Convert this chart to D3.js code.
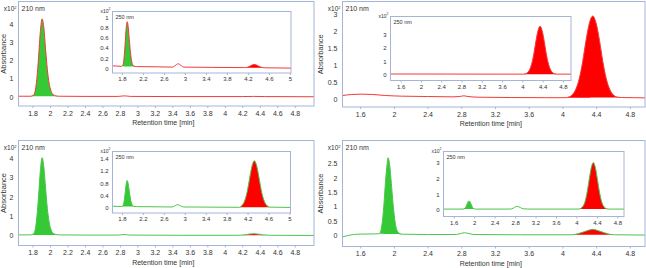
<!DOCTYPE html>
<meta charset="utf-8">
<style>
  body { margin: 0; background: #fff; }
  text { font-family: "Liberation Sans", Arial, sans-serif; fill: #333; }
</style>
<body>
<svg id="chart" width="646" height="268"></svg>
<script src="https://d3js.org/d3.v7.min.js"></script>
<script>
// chromatogram traces, [retention time (min), absorbance (x10^2)]
var trace1 = [[1.64,0.03],[1.70,0.03],[1.78,0.03],[1.81,0.08],[1.83,0.3],[1.85,1.0],[1.87,2.2],[1.89,3.6],[1.91,4.3],[1.93,3.8],[1.95,2.6],[1.97,1.5],[1.99,0.75],[2.01,0.35],[2.03,0.15],[2.06,0.06],[2.10,0.03],[2.40,0.02],[2.78,0.02],[2.85,0.05],[2.92,0.02],[3.50,0.01],[4.20,0.01],[4.33,0.02],[4.45,0.01],[5.02,0.0]];
var trace1i = [[1.62,0.05],[1.70,0.045],[1.79,0.04],[1.82,0.07],[1.84,0.2],[1.86,0.47],[1.88,0.78],[1.90,0.91],[1.92,0.8],[1.94,0.56],[1.96,0.33],[1.98,0.17],[2.00,0.08],[2.03,0.045],[2.08,0.035],[2.50,0.03],[2.76,0.025],[2.82,0.06],[2.87,0.09],[2.92,0.06],[2.98,0.025],[3.50,0.02],[4.14,0.015],[4.20,0.025],[4.26,0.055],[4.31,0.075],[4.35,0.07],[4.40,0.045],[4.46,0.02],[4.52,0.012],[5.02,0.005]];
var trace2 = [[1.39,0.10],[1.50,0.13],[1.62,0.14],[1.75,0.13],[1.90,0.10],[2.10,0.08],[2.40,0.07],[2.70,0.06],[2.78,0.07],[2.83,0.09],[2.88,0.07],[3.00,0.05],[3.40,0.04],[3.80,0.035],[4.04,0.035],[4.08,0.06],[4.12,0.13],[4.16,0.29],[4.20,0.6],[4.24,1.1],[4.28,1.73],[4.32,2.24],[4.36,2.45],[4.40,2.24],[4.44,1.73],[4.48,1.1],[4.52,0.6],[4.56,0.29],[4.60,0.13],[4.64,0.06],[4.70,0.04],[4.98,0.03]];
var trace2i = [[1.40,0.06],[2.50,0.055],[3.50,0.05],[4.03,0.05],[4.07,0.09],[4.11,0.18],[4.15,0.42],[4.19,0.88],[4.23,1.6],[4.27,2.52],[4.31,3.26],[4.35,3.58],[4.39,3.26],[4.43,2.52],[4.47,1.6],[4.51,0.88],[4.55,0.42],[4.59,0.18],[4.63,0.09],[4.68,0.05],[4.96,0.05]];
var trace3 = [[1.64,0.03],[1.78,0.03],[1.81,0.08],[1.83,0.28],[1.85,0.95],[1.87,2.05],[1.89,3.35],[1.91,4.03],[1.93,3.55],[1.95,2.45],[1.97,1.4],[1.99,0.7],[2.01,0.33],[2.03,0.14],[2.06,0.06],[2.10,0.03],[2.40,0.02],[2.78,0.02],[2.85,0.05],[2.92,0.02],[3.50,0.01],[4.15,0.01],[4.22,0.03],[4.28,0.07],[4.33,0.09],[4.38,0.07],[4.44,0.03],[4.52,0.01],[5.02,0.0]];
var trace3i = [[1.62,0.06],[1.79,0.05],[1.82,0.08],[1.84,0.2],[1.86,0.46],[1.88,0.76],[1.90,0.89],[1.92,0.78],[1.94,0.55],[1.96,0.33],[1.98,0.17],[2.00,0.09],[2.03,0.055],[2.08,0.045],[2.50,0.04],[2.76,0.035],[2.82,0.08],[2.87,0.11],[2.92,0.07],[2.98,0.035],[3.50,0.03],[4.05,0.025],[4.09,0.08],[4.13,0.18],[4.17,0.37],[4.21,0.68],[4.25,1.07],[4.29,1.39],[4.33,1.53],[4.37,1.39],[4.41,1.07],[4.45,0.68],[4.49,0.37],[4.53,0.18],[4.57,0.08],[4.62,0.03],[5.02,0.02]];
var trace4 = [[1.39,-0.06],[1.45,-0.02],[1.52,0.02],[1.62,0.035],[1.75,0.04],[1.82,0.045],[1.84,0.1],[1.86,0.4],[1.88,1.0],[1.90,1.85],[1.92,2.5],[1.93,2.71],[1.95,2.45],[1.97,1.8],[1.99,1.1],[2.01,0.55],[2.03,0.22],[2.06,0.07],[2.10,0.03],[2.40,0.02],[2.74,0.02],[2.80,0.06],[2.84,0.08],[2.88,0.06],[2.95,0.02],[3.50,0.01],[4.10,0.01],[4.16,0.03],[4.22,0.08],[4.29,0.15],[4.36,0.2],[4.43,0.15],[4.50,0.08],[4.56,0.03],[4.62,0.01],[4.98,0.0]];
var trace4i = [[1.40,0.05],[1.78,0.05],[1.82,0.1],[1.85,0.28],[1.88,0.5],[1.90,0.57],[1.92,0.5],[1.95,0.28],[1.98,0.1],[2.02,0.05],[2.70,0.05],[2.76,0.1],[2.81,0.2],[2.85,0.22],[2.90,0.15],[2.96,0.07],[3.05,0.05],[4.05,0.05],[4.09,0.1],[4.13,0.24],[4.17,0.55],[4.21,1.14],[4.25,1.94],[4.29,2.68],[4.33,3.0],[4.37,2.68],[4.41,1.94],[4.45,1.14],[4.49,0.55],[4.53,0.24],[4.57,0.1],[4.62,0.05],[4.93,0.05]];

// filled peaks: [from, to, colour key]
var fills1 = [[1.78, 2.10, "g"]];
var fills1i = [[1.79, 2.08, "g"], [4.14, 4.52, "r"]];
var fills2 = [[4.04, 4.70, "r"]];
var fills2i = [[4.03, 4.68, "r"]];
var fills3 = [[1.78, 2.10, "g"], [4.15, 4.52, "r"]];
var fills3i = [[1.79, 2.08, "g"], [4.05, 4.62, "r"]];
var fills4 = [[1.82, 2.10, "g"], [4.10, 4.62, "r"]];
var fills4i = [[1.78, 2.02, "g"], [4.05, 4.62, "r"]];

// tick values and labels
var xTicksA = [1.8, 2, 2.2, 2.4, 2.6, 2.8, 3, 3.2, 3.4, 3.6, 3.8, 4, 4.2, 4.4, 4.6, 4.8];
var xTicksB = [1.8, 2.2, 2.6, 3, 3.4, 3.8, 4.2, 4.6, 5];
var xTicksC = [1.6, 2, 2.4, 2.8, 3.2, 3.6, 4, 4.4, 4.8];
var yTicks1 = [0, 1, 2, 3, 4];
var yTicks1i = [0, 0.2, 0.4, 0.6, 0.8, 1];
var yTicks2 = [0, 0.5, 1, 1.5, 2, 2.5];
var yLabels2 = ["0", "0.5", "1", "1.5", "2", "3"];
var yTicks2i = [0, 1, 2, 3];
var yTicks3 = [0, 1, 2, 3, 4];
var yTicks3i = [0, 0.4, 0.8, 1.2, 1.6];
var yLabels3i = ["0", "0.4", "0.8", "1.2", "1.4"];
var yTicks4 = [0, 0.5, 1, 1.5, 2, 2.5];
var yTicks4i = [0, 1, 2, 3];

var colors = {g: "#35c935", r: "#ff0000"};
var lineRed = "#f23a3a", lineGreen = "#4cc44c";
var frameColor = "#a4b5d8";

var svg = d3.select("#chart");
var clipN = 0;

var panels = [
  {main: {box: [18.5, 1.5, 295.5, 104.5], xDom: [1.64, 5.02], yDom: [-0.51, 5.26], trace: trace1, fills: fills1, line: lineRed, xt: xTicksA, yt: yTicks1, absX: 13},
   inset: {box: [112.5, 11.5, 178.5, 61.5], xDom: [1.62, 5.02], yDom: [-0.09, 1.11], trace: trace1i, fills: fills1i, line: lineRed, xt: xTicksB, yt: yTicks1i}},
  {main: {box: [342.5, 1.5, 302.5, 105.5], xDom: [1.39, 4.98], yDom: [-0.24, 2.88], trace: trace2, fills: fills2, line: lineRed, xt: xTicksC, yt: yTicks2, yl: yLabels2, absX: 20},
   inset: {box: [390.5, 16.5, 180.5, 64], xDom: [1.40, 4.96], yDom: [-0.42, 4.3], trace: trace2i, fills: fills2i, line: lineRed, xt: xTicksC, yt: yTicks2i}},
  {main: {box: [18.5, 140.5, 295.5, 105], xDom: [1.64, 5.02], yDom: [-0.52, 4.92], trace: trace3, fills: fills3, line: lineGreen, xt: xTicksA, yt: yTicks3, absX: 13},
   inset: {box: [112.5, 151.5, 178, 61.5], xDom: [1.62, 5.02], yDom: [-0.16, 1.83], trace: trace3i, fills: fills3i, line: lineGreen, xt: xTicksB, yt: yTicks3i, yl: yLabels3i}},
  {main: {box: [342.5, 140.5, 302.5, 106], xDom: [1.39, 4.98], yDom: [-0.40, 3.31], trace: trace4, fills: fills4, line: lineGreen, xt: xTicksC, yt: yTicks4, absX: 20},
   inset: {box: [443.5, 151.5, 180.5, 65], xDom: [1.40, 4.93], yDom: [-0.42, 3.7], trace: trace4i, fills: fills4i, line: lineGreen, xt: xTicksC, yt: yTicks4i}}
];

panels.forEach(function(p) {
  drawPlot(p.main, false);
  drawPlot(p.inset, true);
});

function drawPlot(c, inset) {
  var b = c.box, w = b[2], h = b[3];
  var fs = inset ? 6 : 7;
  var g = svg.append("g").attr("transform", "translate(" + b[0] + "," + b[1] + ")");
  var x = d3.scaleLinear().domain(c.xDom).range([0, w]);
  var y = d3.scaleLinear().domain(c.yDom).range([h, 0]);

  g.append("rect").attr("width", w).attr("height", h).attr("fill", "#fff");
  var id = "clip" + (clipN++);
  g.append("clipPath").attr("id", id).append("rect").attr("width", w).attr("height", h);
  var plot = g.append("g").attr("clip-path", "url(#" + id + ")");

  // filled peaks between trace and a straight baseline
  c.fills.forEach(function(f) {
    var pts = c.trace.filter(function(d) { return d[0] >= f[0] - 1e-9 && d[0] <= f[1] + 1e-9; });
    var p0 = pts[0], p1 = pts[pts.length - 1];
    var base = function(t) { return p0[1] + (p1[1] - p0[1]) * (t - p0[0]) / (p1[0] - p0[0]); };
    plot.append("path").datum(pts)
      .attr("fill", colors[f[2]])
      .attr("d", d3.area().curve(d3.curveMonotoneX)
        .x(function(d) { return x(d[0]); })
        .y0(function(d) { return y(base(d[0])); })
        .y1(function(d) { return y(d[1]); }));
  });

  plot.append("path").datum(c.trace)
    .attr("fill", "none").attr("stroke", c.line).attr("stroke-width", 1)
    .attr("d", d3.line().curve(d3.curveMonotoneX)
      .x(function(d) { return x(d[0]); })
      .y(function(d) { return y(d[1]); }));

  var xa = g.append("g").attr("transform", "translate(0," + h + ")")
    .call(d3.axisBottom(x).tickValues(c.xt).tickSize(2).tickPadding(inset ? 2 : 3)
      .tickFormat(function(d) { return String(d); }));
  var ya = g.append("g")
    .call(d3.axisLeft(y).tickValues(c.yt).tickSize(0).tickPadding(inset ? 4 : 5)
      .tickFormat(function(d, i) { return c.yl ? c.yl[i] : String(d); }));
  [xa, ya].forEach(function(a) {
    a.attr("font-size", fs).attr("font-family", null);
    a.select(".domain").remove();
    a.selectAll(".tick line").attr("stroke", frameColor);
    a.selectAll(".tick text").attr("fill", "#333");
  });

  g.append("rect").attr("width", w).attr("height", h)
    .attr("fill", "none").attr("stroke", frameColor).attr("stroke-width", 1);

  // wavelength label
  g.append("text").attr("x", 3).attr("y", inset ? 7 : 9)
    .attr("font-size", inset ? 5.5 : 7).text(inset ? "250 nm" : "210 nm");

  // x10^2 scale note
  var sc = g.append("text").attr("x", -2).attr("y", inset ? 1 : 9.5)
    .attr("text-anchor", "end").attr("font-size", inset ? 5 : 6.5);
  sc.append("tspan").text("x10");
  sc.append("tspan").attr("dy", -2.5).attr("font-size", inset ? 3.5 : 4).text("2");

  if (!inset) {
    g.append("text").attr("x", w / 2 - 3).attr("y", h + 19)
      .attr("text-anchor", "middle").attr("font-size", 7).text("Retention time [min]");
    g.append("text").attr("transform", "translate(" + (-c.absX) + "," + (h / 2) + ") rotate(-90)")
      .attr("text-anchor", "middle").attr("font-size", 7.5).text("Absorbance");
  }
}
</script>
</body>
